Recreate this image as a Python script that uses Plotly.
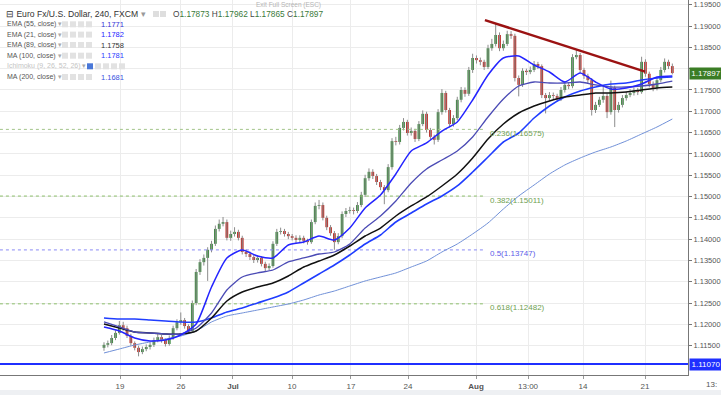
import plotly.graph_objects as go

# ------------------------------------------------------------------ data
bars = list(range(149))

opens = [
    1.1145, 1.1152, 1.1156, 1.1168, 1.1180, 1.1198, 1.1191, 1.1173, 1.1156, 1.1145,
    1.1135, 1.1142, 1.1147, 1.1152, 1.1163, 1.1170, 1.1163, 1.1154, 1.1168, 1.1191,
    1.1205, 1.1210, 1.1196, 1.1184, 1.1250, 1.1323, 1.1346, 1.1356, 1.1375, 1.1389,
    1.1424, 1.1436, 1.1440, 1.1403, 1.1412, 1.1417, 1.1403, 1.1370, 1.1365, 1.1358,
    1.1351, 1.1356, 1.1342, 1.1332, 1.1337, 1.1389, 1.1417, 1.1419, 1.1412, 1.1407,
    1.1403, 1.1398, 1.1403, 1.1396, 1.1393, 1.1440, 1.1478, 1.1480, 1.1450, 1.1428,
    1.1414, 1.1393, 1.1407, 1.1459, 1.1466, 1.1468, 1.1466, 1.1480, 1.1504, 1.1543,
    1.1558, 1.1548, 1.1534, 1.1522, 1.1515, 1.1569, 1.1630, 1.1628, 1.1661, 1.1675,
    1.1649, 1.1654, 1.1635, 1.1670, 1.1694, 1.1656, 1.1640, 1.1633, 1.1698, 1.1743,
    1.1703, 1.1670, 1.1684, 1.1727, 1.1750, 1.1741, 1.1797, 1.1825, 1.1820, 1.1816,
    1.1804, 1.1848, 1.1858, 1.1879, 1.1848, 1.1858, 1.1881, 1.1877, 1.1778, 1.1762,
    1.1795, 1.1792, 1.1797, 1.1811, 1.1806, 1.1738, 1.1731, 1.1738, 1.1736, 1.1729,
    1.1750, 1.1762, 1.1759, 1.1827, 1.1832, 1.1797, 1.1783, 1.1773, 1.1703, 1.1715,
    1.1727, 1.1736, 1.1698, 1.1755, 1.1703, 1.1715, 1.1731, 1.1738, 1.1743, 1.1748,
    1.1745, 1.1816, 1.1788, 1.1764, 1.1755, 1.1773, 1.1797, 1.1816, 1.1806,
]
highs = [
    1.1158, 1.1162, 1.1175, 1.1186, 1.1208, 1.1206, 1.1197, 1.1178, 1.1160, 1.1150,
    1.1148, 1.1153, 1.1158, 1.1169, 1.1177, 1.1175, 1.1167, 1.1174, 1.1197, 1.1212,
    1.1228, 1.1215, 1.1200, 1.1256, 1.1330, 1.1353, 1.1364, 1.1381, 1.1396, 1.1432,
    1.1446, 1.1452, 1.1446, 1.1420, 1.1428, 1.1422, 1.1408, 1.1376, 1.1371, 1.1363,
    1.1362, 1.1360, 1.1347, 1.1343, 1.1395, 1.1424, 1.1427, 1.1424, 1.1417, 1.1412,
    1.1409, 1.1409, 1.1408, 1.1401, 1.1446, 1.1486, 1.1492, 1.1486, 1.1455, 1.1433,
    1.1419, 1.1414, 1.1465, 1.1473, 1.1476, 1.1474, 1.1487, 1.1511, 1.1551, 1.1566,
    1.1564, 1.1553, 1.1539, 1.1527, 1.1576, 1.1637, 1.1640, 1.1668, 1.1684, 1.1680,
    1.1662, 1.1659, 1.1677, 1.1702, 1.1699, 1.1661, 1.1645, 1.1705, 1.1752, 1.1748,
    1.1708, 1.1691, 1.1734, 1.1757, 1.1756, 1.1804, 1.1835, 1.1831, 1.1826, 1.1821,
    1.1856, 1.1870, 1.1907, 1.1885, 1.1866, 1.1889, 1.1888, 1.1882, 1.1784, 1.1801,
    1.1800, 1.1805, 1.1818, 1.1816, 1.1810, 1.1743, 1.1745, 1.1744, 1.1741, 1.1757,
    1.1770, 1.1768, 1.1834, 1.1845, 1.1837, 1.1802, 1.1788, 1.1778, 1.1722, 1.1734,
    1.1760, 1.1742, 1.1772, 1.1760, 1.1722, 1.1738, 1.1746, 1.1752, 1.1756, 1.1755,
    1.1828, 1.1822, 1.1793, 1.1770, 1.1780, 1.1804, 1.1824, 1.1821, 1.1812,
]
lows = [
    1.1138, 1.1146, 1.1151, 1.1163, 1.1176, 1.1185, 1.1168, 1.1150, 1.1139, 1.1125,
    1.1130, 1.1137, 1.1141, 1.1147, 1.1158, 1.1157, 1.1148, 1.1150, 1.1164, 1.1186,
    1.1199, 1.1190, 1.1178, 1.1180, 1.1245, 1.1316, 1.1338, 1.1302, 1.1369, 1.1384,
    1.1418, 1.1430, 1.1397, 1.1396, 1.1406, 1.1397, 1.1364, 1.1358, 1.1351, 1.1344,
    1.1345, 1.1336, 1.1325, 1.1326, 1.1333, 1.1384, 1.1411, 1.1406, 1.1400, 1.1397,
    1.1391, 1.1392, 1.1390, 1.1387, 1.1389, 1.1435, 1.1470, 1.1444, 1.1421, 1.1408,
    1.1375, 1.1388, 1.1402, 1.1452, 1.1460, 1.1458, 1.1461, 1.1475, 1.1499, 1.1537,
    1.1541, 1.1527, 1.1515, 1.1482, 1.1510, 1.1563, 1.1620, 1.1622, 1.1655, 1.1643,
    1.1643, 1.1628, 1.1630, 1.1665, 1.1650, 1.1633, 1.1622, 1.1628, 1.1692, 1.1697,
    1.1662, 1.1664, 1.1679, 1.1721, 1.1734, 1.1736, 1.1790, 1.1812, 1.1808, 1.1797,
    1.1799, 1.1842, 1.1852, 1.1841, 1.1842, 1.1853, 1.1870, 1.1770, 1.1735, 1.1757,
    1.1785, 1.1787, 1.1792, 1.1799, 1.1731, 1.1695, 1.1725, 1.1728, 1.1722, 1.1724,
    1.1744, 1.1752, 1.1754, 1.1822, 1.1790, 1.1776, 1.1766, 1.1690, 1.1696, 1.1710,
    1.1720, 1.1684, 1.1692, 1.1663, 1.1697, 1.1709, 1.1725, 1.1733, 1.1737, 1.1738,
    1.1741, 1.1781, 1.1756, 1.1747, 1.1749, 1.1768, 1.1791, 1.1799, 1.17865,
]
closes = [
    1.1152, 1.1156, 1.1168, 1.1180, 1.1198, 1.1191, 1.1173, 1.1156, 1.1145, 1.1135,
    1.1142, 1.1147, 1.1152, 1.1163, 1.1170, 1.1163, 1.1154, 1.1168, 1.1191, 1.1205,
    1.1210, 1.1196, 1.1184, 1.1250, 1.1323, 1.1346, 1.1356, 1.1375, 1.1389, 1.1424,
    1.1436, 1.1440, 1.1403, 1.1412, 1.1417, 1.1403, 1.1370, 1.1365, 1.1358, 1.1351,
    1.1356, 1.1342, 1.1332, 1.1337, 1.1389, 1.1417, 1.1419, 1.1412, 1.1407, 1.1403,
    1.1398, 1.1403, 1.1396, 1.1393, 1.1440, 1.1478, 1.1480, 1.1450, 1.1428, 1.1414,
    1.1393, 1.1407, 1.1459, 1.1466, 1.1468, 1.1466, 1.1480, 1.1504, 1.1543, 1.1558,
    1.1548, 1.1534, 1.1522, 1.1515, 1.1569, 1.1630, 1.1628, 1.1661, 1.1675, 1.1649,
    1.1654, 1.1635, 1.1670, 1.1694, 1.1656, 1.1640, 1.1633, 1.1698, 1.1743, 1.1703,
    1.1670, 1.1684, 1.1727, 1.1750, 1.1741, 1.1797, 1.1825, 1.1820, 1.1816, 1.1804,
    1.1848, 1.1858, 1.1879, 1.1848, 1.1858, 1.1881, 1.1877, 1.1778, 1.1762, 1.1795,
    1.1792, 1.1797, 1.1811, 1.1806, 1.1738, 1.1731, 1.1738, 1.1736, 1.1729, 1.1750,
    1.1762, 1.1759, 1.1827, 1.1832, 1.1797, 1.1783, 1.1773, 1.1703, 1.1715, 1.1727,
    1.1736, 1.1698, 1.1755, 1.1703, 1.1715, 1.1731, 1.1738, 1.1743, 1.1748, 1.1745,
    1.1816, 1.1788, 1.1764, 1.1755, 1.1773, 1.1797, 1.1816, 1.1806, 1.17897,
]

# moving averages, read every 4th bar
ma_bars = list(range(0, 149, 4))
ema21 = [1.11939, 1.11845, 1.11681, 1.11610, 1.11634, 1.11751, 1.12009, 1.12877, 1.13558, 1.13745,
         1.13604, 1.13558, 1.13863, 1.13933, 1.14074, 1.13980, 1.14261, 1.14731, 1.15036, 1.15528,
         1.16068, 1.16256, 1.16537, 1.16749, 1.17265, 1.17851, 1.18250, 1.18297, 1.18086, 1.17922,
         1.17687, 1.17898, 1.17687, 1.17523, 1.17546, 1.17640, 1.17804, 1.17828]
ema55 = [1.12056, 1.11939, 1.11821, 1.11798, 1.11774, 1.11774, 1.11915, 1.12267, 1.12807, 1.13112,
         1.13206, 1.13276, 1.13464, 1.13558, 1.13651, 1.13698, 1.13886, 1.14261, 1.14543, 1.14895,
         1.15317, 1.15646, 1.15857, 1.16068, 1.16397, 1.16866, 1.17288, 1.17593, 1.17687, 1.17664,
         1.17664, 1.17687, 1.17617, 1.17570, 1.17570, 1.17593, 1.17640, 1.17710]
ema89 = [1.12009, 1.11915, 1.11821, 1.11798, 1.11774, 1.11774, 1.11845, 1.12150, 1.12549, 1.12760,
         1.12877, 1.12971, 1.13135, 1.13346, 1.13487, 1.13628, 1.13839, 1.14074, 1.14261, 1.14543,
         1.14778, 1.14989, 1.15247, 1.15528, 1.15904, 1.16350, 1.16702, 1.16960, 1.17124, 1.17241,
         1.17335, 1.17382, 1.17429, 1.17429, 1.17452, 1.17499, 1.17546, 1.17570]
ma100 = [1.12150, 1.12126, 1.12126, 1.12103, 1.12079, 1.12056, 1.12056, 1.12150, 1.12291, 1.12384,
         1.12502, 1.12619, 1.12760, 1.12971, 1.13182, 1.13393, 1.13628, 1.13886, 1.14097, 1.14402,
         1.14613, 1.14825, 1.15012, 1.15247, 1.15575, 1.15927, 1.16279, 1.16490, 1.16842, 1.17124,
         1.17335, 1.17476, 1.17570, 1.17640, 1.17664, 1.17734, 1.17781, 1.17804]
ma200 = [1.11329, 1.11422, 1.11516, 1.11587, 1.11657, 1.11727, 1.11845, 1.12056, 1.12197, 1.12267,
         1.12337, 1.12408, 1.12478, 1.12572, 1.12689, 1.12783, 1.12901, 1.13018, 1.13112, 1.13206,
         1.13346, 1.13487, 1.13698, 1.13886, 1.14121, 1.14379, 1.14707, 1.15012, 1.15270, 1.15528,
         1.15740, 1.15904, 1.16045, 1.16162, 1.16303, 1.16467, 1.16631, 1.16819]

# drawings
trend_bars = [99.2, 140.9]
trend_prices = [1.1914, 1.1793]
fib_names = ["0.236", "0.382", "0.5", "0.618"]
fib_prices = [1.16575, 1.15011, 1.13747, 1.12482]
fib_bars = [-27.1, 99.2]
support_price = 1.1107
last_price = 1.17897

tick_bars = [4.17, 20.05, 33.59, 48.96, 64.32, 79.17, 96.88, 110.42, 124.74, 140.89]
tick_labels = ["19", "26", "<b>Jul</b>", "10", "17", "24", "<b>Aug</b>", "13:00", "14", "21"]
price_ticks = [1.115, 1.120, 1.125, 1.130, 1.135, 1.140, 1.145, 1.150, 1.155,
               1.160, 1.165, 1.170, 1.175, 1.180, 1.185, 1.190, 1.195]
price_tick_text = ["1.11500", "1.12000", "1.12500", "1.13000", "1.13500", "1.14000",
                   "1.14500", "1.15000", "1.15500", "1.16000", "1.16500", "1.17000",
                   "1.17500", "", "1.18500", "1.19000", "1.19500"]

legend_names = ["EMA (55, close)", "EMA (21, close)", "EMA (89, close)",
                "MA (100, close)", "Ichimoku (9, 26, 52, 26)", "MA (200, close)"]
legend_values = ["1.1771", "1.1782", "1.1758", "1.1781", "", "1.1681"]
ohlc_labels = ["O", "H", "L", "C"]
ohlc_values = ["1.17873", "1.17962", "1.17865", "1.17897"]

# ------------------------------------------------------------------ layout helpers
W, H = 721, 395
ML, MR, MT, MB = 0, 33, 0, 20
PW, PH = W - ML - MR, H - MT - MB


def px(x):
    return (x - ML) / PW


def py(y):
    return 1 - (y - MT) / PH


FONT = "Liberation Sans, Arial, sans-serif"
UP, DOWN, WICK = "#3d8a41", "#c0302a", "#8c8c8c"

fig = go.Figure()

# wicks
wick_x, wick_y = [], []
for b, lo, hi in zip(bars, lows, highs):
    wick_x += [b, b, None]
    wick_y += [lo, hi, None]
fig.add_trace(go.Scatter(x=wick_x, y=wick_y, mode="lines",
                         line=dict(color=WICK, width=1), hoverinfo="skip", showlegend=False))

# bodies
body_base = [min(o, c) for o, c in zip(opens, closes)]
body_len = [max(abs(c - o), 0.00006) for o, c in zip(opens, closes)]
body_col = [UP if c >= o else DOWN for o, c in zip(opens, closes)]
fig.add_trace(go.Bar(x=bars, y=body_len, base=body_base, width=0.72,
                     marker=dict(color=body_col, line=dict(width=0)),
                     hoverinfo="skip", showlegend=False))

# fib levels
fib_line_colors = ["#a3c48a", "#8cbf6a", "#8a8af5", "#8cbf6a"]
fib_text_colors = ["#6f9f52", "#6f9f52", "#5b5be8", "#6f9f52"]
for name, price, lc in zip(fib_names, fib_prices, fib_line_colors):
    fig.add_trace(go.Scatter(x=fib_bars, y=[price, price], mode="lines",
                             line=dict(color=lc, width=1, dash="dot"),
                             hoverinfo="skip", showlegend=False))

line_specs = [
    (ma200, "#7090d8", 1.0),
    (ma100, "#1f3dff", 1.6),
    (ema89, "#111111", 1.5),
    (ema55, "#4b4bb5", 1.3),
    (ema21, "#2424ff", 1.5),
]
for vals, col, w in line_specs:
    fig.add_trace(go.Scatter(x=ma_bars, y=vals, mode="lines",
                             line=dict(color=col, width=w, shape="spline", smoothing=0.6),
                             hoverinfo="skip", showlegend=False))

fig.add_trace(go.Scatter(x=trend_bars, y=trend_prices, mode="lines",
                         line=dict(color="#9b1212", width=2.5),
                         hoverinfo="skip", showlegend=False))

annotations = []
shapes = []

# support line
shapes.append(dict(type="line", xref="paper", yref="y", x0=0, x1=1,
                   y0=support_price, y1=support_price,
                   line=dict(color="#1f2fff", width=2)))

# fib labels
for name, price, tc in zip(fib_names, fib_prices, fib_text_colors):
    annotations.append(dict(x=fib_bars[1], y=price, xref="x", yref="y",
                            text=f"{name}({price:.5f})", showarrow=False,
                            xanchor="left", yanchor="middle", xshift=3, yshift=-4,
                            font=dict(family=FONT, size=8, color=tc)))

# price axis boxes
annotations.append(dict(x=1, y=last_price, xref="paper", yref="y", text=f"{last_price:.5f}",
                        showarrow=False, xanchor="left", yanchor="middle", xshift=1,
                        bgcolor="#3b7d25", borderpad=1, width=30,
                        font=dict(family=FONT, size=8, color="white")))
annotations.append(dict(x=1, y=support_price, xref="paper", yref="y", text=f"{support_price:.5f}",
                        showarrow=False, xanchor="left", yanchor="middle", xshift=1,
                        bgcolor="#1f2fff", borderpad=1, width=30,
                        font=dict(family=FONT, size=8, color="white")))

# cut-off time label beyond price axis
annotations.append(dict(x=px(704), y=py(384), xref="paper", yref="paper", text="13:",
                        showarrow=False, xanchor="left", yanchor="middle",
                        font=dict(family=FONT, size=8, color="#555")))

# title line
annotations.append(dict(x=px(4), y=py(14), xref="paper", yref="paper",
                        text="⊟ Euro Fx/U.S. Dollar, 240, FXCM <span style='color:#999'>▾</span>",
                        showarrow=False, xanchor="left", yanchor="middle",
                        font=dict(family=FONT, size=8.6, color="#333")))
for i in range(2):
    shapes.append(dict(type="rect", xref="paper", yref="paper",
                       x0=px(153 + i * 7), x1=px(159 + i * 7), y0=py(17), y1=py(11),
                       fillcolor="#dedede", line=dict(width=0)))
ohlc_text = " ".join(f"{l}<span style='color:#3a7a3a'>{v}</span>" for l, v in zip(ohlc_labels, ohlc_values))
annotations.append(dict(x=px(171), y=py(14), xref="paper", yref="paper", text=ohlc_text,
                        showarrow=False, xanchor="left", yanchor="middle",
                        font=dict(family=FONT, size=8.3, color="#444")))

# indicator rows
row_y = [24.3, 34.6, 45.0, 55.7, 66.3, 77.0]
value_colors = ["#3434d8", "#2424ff", "#333333", "#2a3cff", "#999", "#3a52e0"]
for i, (name, val, yy) in enumerate(zip(legend_names, legend_values, row_y)):
    ichi = name.startswith("Ichimoku")
    annotations.append(dict(x=px(5), y=py(yy), xref="paper", yref="paper",
                            text=f"{name} <span style='color:#aaa'>▾</span>", showarrow=False,
                            xanchor="left", yanchor="middle",
                            font=dict(family=FONT, size=7, color="#c4c4c4" if ichi else "#555")))
    x0 = 87 if ichi else 62
    n = 5 if ichi else 4
    for k in range(n):
        col = "#4a78d8" if (ichi and k == 0) else "#e2e2e2"
        shapes.append(dict(type="rect", xref="paper", yref="paper",
                           x0=px(x0 + k * 8), x1=px(x0 + k * 8 + 6), y0=py(yy + 3), y1=py(yy - 3),
                           fillcolor=col, line=dict(width=0)))
    if val:
        annotations.append(dict(x=px(99), y=py(yy), xref="paper", yref="paper", text=val,
                                showarrow=False, xanchor="left", yanchor="middle",
                                font=dict(family=FONT, size=7.5, color=value_colors[i])))

annotations.append(dict(x=px(288), y=py(5), xref="paper", yref="paper",
                        text="Exit Full Screen (ESC)", showarrow=False,
                        xanchor="center", yanchor="middle",
                        font=dict(family=FONT, size=6.5, color="#b5b5b5")))

# bottom grey strip
shapes.append(dict(type="rect", xref="paper", yref="paper", x0=-0.01, x1=1.05,
                   y0=py(396), y1=py(390), fillcolor="#eef0f3", line=dict(width=0), layer="below"))

fig.update_layout(
    width=W, height=H,
    margin=dict(l=ML, r=MR, t=MT, b=MB, autoexpand=False),
    paper_bgcolor="white", plot_bgcolor="white",
    showlegend=False, barmode="overlay", hovermode=False,
    annotations=annotations, shapes=shapes,
    font=dict(family=FONT),
    xaxis=dict(range=[-27.08, 152.08], tickvals=tick_bars, ticktext=tick_labels,
               showgrid=True, gridcolor="#ececec", gridwidth=1,
               ticks="outside", ticklen=3, tickcolor="#999",
               tickfont=dict(family=FONT, size=8, color="#555"),
               showline=True, linecolor="#777", linewidth=1,
               zeroline=False, fixedrange=True),
    yaxis=dict(range=[1.10812, 1.19611], side="right", tickvals=price_ticks,
               ticktext=price_tick_text, showgrid=True, gridcolor="#ececec", gridwidth=1,
               ticks="outside", ticklen=3, tickcolor="#777",
               tickfont=dict(family=FONT, size=7.5, color="#555"),
               showline=True, linecolor="#777", linewidth=1, zeroline=False, fixedrange=True),
)

fig.write_html("out.html", config={"displayModeBar": False, "staticPlot": True},
               post_script="document.body.style.margin='0';document.body.style.overflow='hidden';")
